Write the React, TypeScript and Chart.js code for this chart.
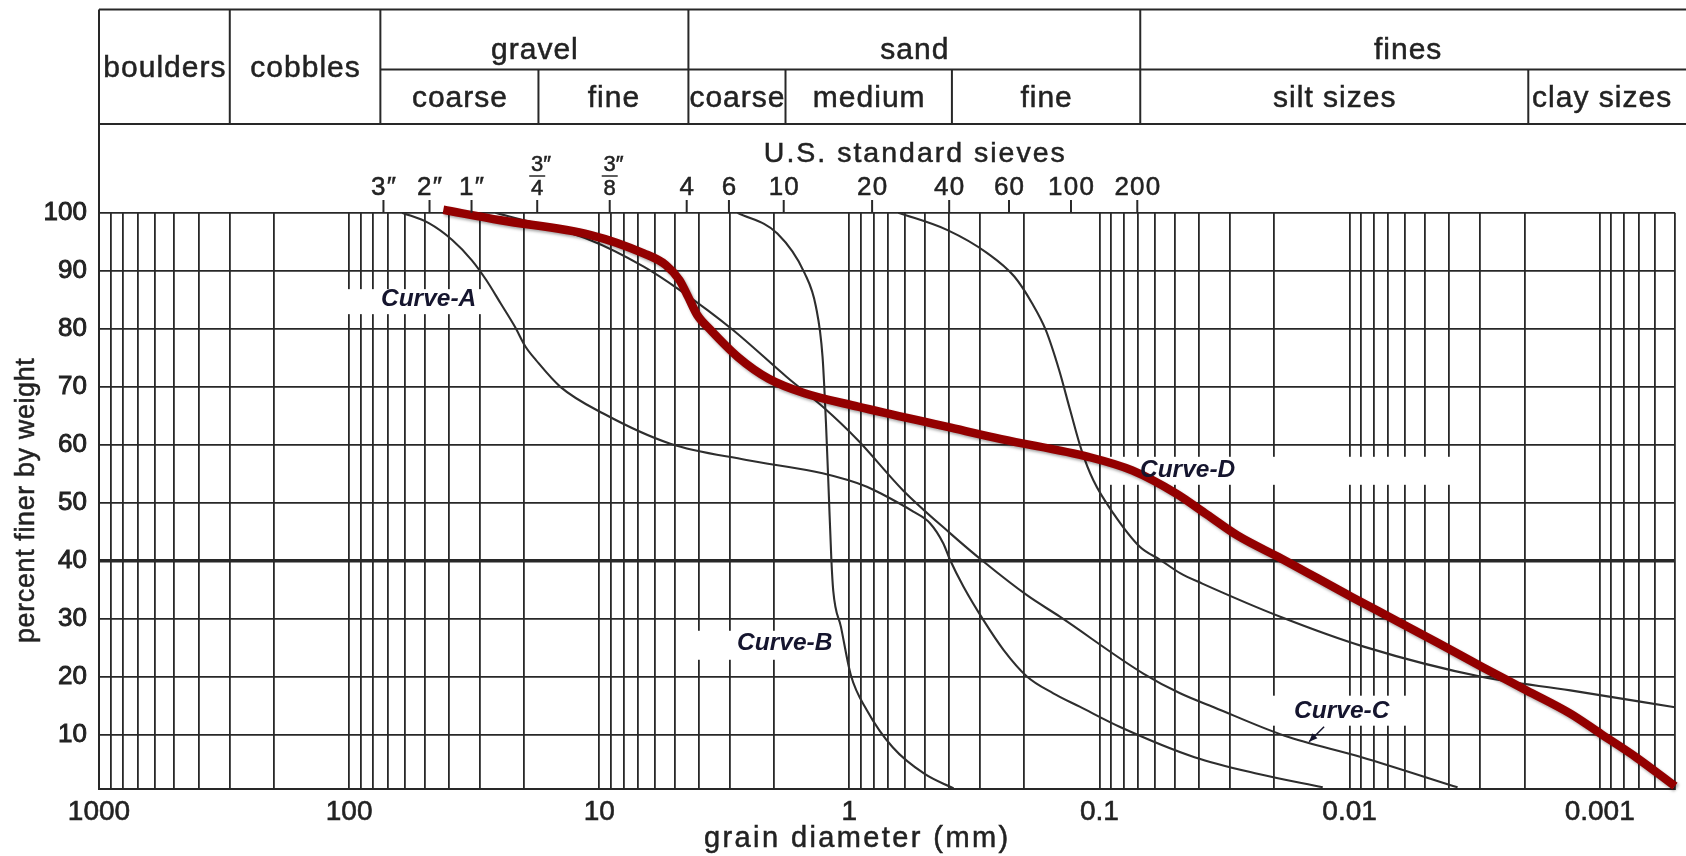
import React, { useEffect, useRef } from 'react';
import { Chart, registerables } from 'chart.js';

Chart.register(...registerables);

// ---------------- data (grain diameter in mm, percent finer by weight) ----------------
const redSize = [42, 24.8, 10.9, 6.64, 5.42, 4.78, 4.41, 4.06, 3.59, 2.8, 2.1, 1.51, 0.924, 0.405, 0.247, 0.11, 0.074, 0.0493, 0.0372, 0.0281, 0.0187, 0.00982, 0.00656, 0.00439, 0.00294, 0.00196, 0.00131, 0.000988, 0.000716, 0.0005];
const redPct = [100.5, 98.7, 96.2, 93.0, 91.0, 88.4, 85.5, 82.4, 79.8, 75.2, 71.4, 68.9, 66.6, 63.1, 61.0, 57.9, 55.6, 51.6, 48.0, 44.4, 40.4, 33.8, 29.8, 25.8, 21.7, 17.7, 13.7, 10.2, 6.2, 1.2];

const curveASize = [61.4, 48.0, 38.7, 32.3, 28.3, 24.8, 21.7, 19.7, 17.9, 14.3, 9.63, 5.2, 2.58, 1.28, 0.851, 0.754, 0.555, 0.476, 0.421, 0.396, 0.35, 0.291, 0.242, 0.195, 0.153, 0.12, 0.0827, 0.0417, 0.0231, 0.0128];
const curveAPct = [100, 98.2, 95.3, 91.8, 88.4, 84.4, 80.3, 76.9, 74.6, 70.0, 65.4, 60.2, 57.4, 55.1, 52.8, 51.7, 48.5, 46.5, 43.0, 40.2, 35.6, 29.8, 24.7, 20.1, 17.2, 14.9, 11.4, 6.2, 3.3, 1.0];

const curveBSize = [2.8, 1.94, 1.51, 1.36, 1.28, 1.24, 1.21, 1.18, 1.16, 1.08, 0.986, 0.851, 0.671, 0.5, 0.383];
const curveBPct = [100, 96.4, 89.6, 83.8, 75.2, 63.7, 52.2, 40.2, 34.9, 28.6, 20.3, 14.3, 7.9, 3.3, 0.8];

const curveCSize = [26.0, 10.9, 6.64, 4.78, 2.92, 1.78, 1.28, 0.924, 0.611, 0.396, 0.291, 0.195, 0.144, 0.0668, 0.0476, 0.0349, 0.0182, 0.00895, 0.0037];
const curveCPct = [100, 95.3, 90.7, 86.7, 79.8, 71.7, 66.6, 60.8, 52.2, 44.8, 39.9, 34.1, 30.4, 20.6, 17.2, 14.8, 9.9, 6.2, 1.0];

const curveDSize = [0.637, 0.405, 0.28, 0.219, 0.186, 0.164, 0.145, 0.131, 0.118, 0.1058, 0.088, 0.0688, 0.0572, 0.0476, 0.0388, 0.0187, 0.00871, 0.00294, 0.00131, 0.0005];
const curveDPct = [100, 97.0, 93.0, 89.0, 84.4, 79.8, 72.9, 66.0, 59.1, 53.9, 48.2, 42.4, 40.2, 37.9, 36.1, 30.3, 25.2, 20.0, 17.7, 14.8];

// axis ticks
const xDecades = [1000, 100, 10, 1, 0.1, 0.01, 0.001];
const xDecadeLabels = ['1000', '100', '10', '1', '0.1', '0.01', '0.001'];
const yTickValues = [10, 20, 30, 40, 50, 60, 70, 80, 90, 100];

// soil classification header
const groupLabels = ['boulders', 'cobbles', 'gravel', 'sand', 'fines'];
const groupFrom = [1000, 300, 75, 4.4, 0.0687];
const groupTo = [300, 75, 4.4, 0.0687, 0.0005];
const subLabels = ['coarse', 'fine', 'coarse', 'medium', 'fine', 'silt sizes', 'clay sizes'];
const subFrom = [75, 17.5, 4.4, 1.8, 0.389, 0.0687, 0.00193];
const subTo = [17.5, 4.4, 1.8, 0.389, 0.0687, 0.00193, 0.0005];

// U.S. standard sieves
const sieveLabels = ['3″', '2″', '1″', '3/4″', '3/8″', '4', '6', '10', '20', '40', '60', '100', '200'];
const sieveSizes = [72.9, 47.7, 32.4, 17.7, 9.08, 4.47, 3.03, 1.83, 0.811, 0.399, 0.23, 0.13, 0.0706];

// curve annotations (anchor = text left / baseline)
const curveLabels = ['Curve-A', 'Curve-B', 'Curve-C', 'Curve-D'];
const curveLabelSize = [74.6, 2.81, 0.01667, 0.0689];
const curveLabelPct = [83.9, 24.7, 13.0, 54.5];

// ---------------- styles ----------------
const FONT = '"Liberation Sans", Arial, sans-serif';
const INK = '#282828';
const TXT = '#222222';
const labelBoxes = [
  [-45, 103, -17, 8],
  [-59, 101, -19, 10],
  [-58, 118, -22, 8],
  [-30, 315, -20, 8],
];

const pts = (s: number[], p: number[]) => s.map((v, i) => ({ x: v, y: p[i] }));

function line(ctx: CanvasRenderingContext2D, x1: number, y1: number, x2: number, y2: number) {
  ctx.beginPath();
  ctx.moveTo(x1, y1);
  ctx.lineTo(x2, y2);
  ctx.stroke();
}

function text(ctx: any, t: string, x: number, y: number, size: number, spacing: number, align: CanvasTextAlign = 'center', style = '') {
  ctx.save();
  ctx.font = `${style}${size}px ${FONT}`;
  ctx.letterSpacing = `${spacing}px`;
  ctx.textAlign = align;
  const dx = align === 'center' ? spacing / 2 : 0;
  ctx.lineWidth = 0.5;
  ctx.strokeStyle = ctx.fillStyle;
  ctx.strokeText(t, x + dx, y);
  ctx.fillText(t, x + dx, y);
  ctx.restore();
}

const soilPlugin = {
  id: 'soilPlugin',
  beforeDatasetsDraw(chart: any) {
    const ctx = chart.ctx;
    const xs = chart.scales.x;
    const ys = chart.scales.y;
    ctx.save();
    ctx.fillStyle = '#ffffff';
    curveLabels.forEach((_, i) => {
      const x0 = xs.getPixelForValue(curveLabelSize[i]);
      const y0 = ys.getPixelForValue(curveLabelPct[i]);
      const b = labelBoxes[i];
      ctx.fillRect(x0 + b[0], y0 + b[2], b[1] - b[0], b[3] - b[2]);
    });
    ctx.restore();
  },
  beforeDatasetDraw(chart: any, args: any) {
    if (args.index === 0) {
      const ctx = chart.ctx;
      ctx.save();
      ctx.shadowColor = 'rgba(0,0,0,0.35)';
      ctx.shadowBlur = 3;
      ctx.shadowOffsetX = 1.5;
      ctx.shadowOffsetY = 2;
    }
  },
  afterDatasetDraw(chart: any, args: any) {
    if (args.index === 0) chart.ctx.restore();
  },
  afterDatasetsDraw(chart: any) {
    const ctx = chart.ctx;
    const xs = chart.scales.x;
    const ys = chart.scales.y;
    ctx.save();
    ctx.fillStyle = '#15152e';
    ctx.textBaseline = 'alphabetic';
    curveLabels.forEach((t, i) => {
      const x0 = xs.getPixelForValue(curveLabelSize[i]);
      const y0 = ys.getPixelForValue(curveLabelPct[i]);
      ctx.font = `italic bold 24.5px ${FONT}`;
      ctx.textAlign = 'left';
      ctx.fillText(t, x0, y0);
      if (t === 'Curve-C') {
        ctx.strokeStyle = '#15152e';
        ctx.lineWidth = 1.5;
        const ax1 = x0 + 30, ay1 = y0 + 9, ax2 = x0 + 15, ay2 = y0 + 24;
        line(ctx, ax1, ay1, ax2, ay2);
        const ang = Math.atan2(ay2 - ay1, ax2 - ax1);
        ctx.beginPath();
        ctx.moveTo(ax2, ay2);
        ctx.lineTo(ax2 - 9 * Math.cos(ang - 0.4), ay2 - 9 * Math.sin(ang - 0.4));
        ctx.lineTo(ax2 - 9 * Math.cos(ang + 0.4), ay2 - 9 * Math.sin(ang + 0.4));
        ctx.closePath();
        ctx.fill();
      }
    });
    ctx.restore();
  },
  afterDraw(chart: any) {
    const ctx = chart.ctx;
    const xs = chart.scales.x;
    const area = chart.chartArea;
    const px = (v: number) => xs.getPixelForValue(v);
    const W = chart.width;
    const yTop = 9.5, yMid = 69.5, yBot = 124;
    ctx.save();
    ctx.strokeStyle = INK;
    ctx.lineWidth = 2;
    // header frame
    line(ctx, area.left, yTop, W, yTop);
    line(ctx, px(75), yMid, W, yMid);
    line(ctx, area.left, yBot, W, yBot);
    line(ctx, area.left, yTop, area.left, area.top);
    groupFrom.forEach((v, i) => {
      if (i > 0) line(ctx, px(v), yTop, px(v), yBot);
    });
    subFrom.forEach((v) => {
      if (groupFrom.indexOf(v) < 0) line(ctx, px(v), yMid, px(v), yBot);
    });
    ctx.fillStyle = TXT;
    ctx.textBaseline = 'alphabetic';
    groupLabels.forEach((t, i) => {
      const x0 = i === 0 ? area.left : px(groupFrom[i]);
      const x1 = i === groupLabels.length - 1 ? area.right : px(groupTo[i]);
      text(ctx, t, (x0 + x1) / 2, i < 2 ? 76.5 : 58.5, 30, 1);
    });
    subLabels.forEach((t, i) => {
      const x0 = px(subFrom[i]);
      const x1 = i === subLabels.length - 1 ? area.right : px(subTo[i]);
      text(ctx, t, (x0 + x1) / 2, 107, 30, 1);
    });
    // sieves
    text(ctx, 'U.S. standard sieves', (px(groupFrom[3]) + px(groupTo[3])) / 2, 161.5, 28.5, 2);
    ctx.strokeStyle = INK;
    sieveLabels.forEach((lab, i) => {
      const x = px(sieveSizes[i]);
      ctx.lineWidth = 2;
      line(ctx, x, 200, x, area.top);
      if (lab.indexOf('/') >= 0) {
        const parts = lab.replace('″', '').split('/');
        ctx.font = `22px ${FONT}`;
        const w = ctx.measureText(parts[0]).width;
        text(ctx, parts[0], x, 171, 22, 0);
        text(ctx, '″', x + w / 2, 171, 22, 0, 'left');
        ctx.lineWidth = 1.5;
        line(ctx, x - 8, 176, x + 8, 176);
        text(ctx, parts[1], x, 195, 22, 0);
      } else {
        text(ctx, lab, x, 194.5, 26, 1.2);
      }
    });
    // axis titles
    text(ctx, 'grain diameter (mm)', px(0.94), 847, 29, 2.4);
    ctx.save();
    ctx.translate(27, (area.top + area.bottom) / 2);
    ctx.rotate(-Math.PI / 2);
    ctx.textBaseline = 'middle';
    text(ctx, 'percent finer by weight', 0, 0, 27, 0.6);
    ctx.restore();
    ctx.restore();
  },
};

export default function App() {
  const ref = useRef<HTMLCanvasElement | null>(null);
  useEffect(() => {
    document.body.style.margin = '0';
    if (!ref.current) return;
    const thin = (label: string, s: number[], p: number[]) => ({
      label,
      data: pts(s, p),
      borderColor: '#2e2e2e',
      borderWidth: 2.1,
      pointRadius: 0,
      cubicInterpolationMode: 'monotone' as const,
    });
    const chart = new Chart(ref.current, {
      type: 'line',
      data: {
        datasets: [
          {
            label: 'Sample',
            data: pts(redSize, redPct),
            borderColor: '#930000',
            borderWidth: 8.5,
            pointRadius: 0,
            cubicInterpolationMode: 'monotone',
            clip: 14,
          } as any,
          thin('Curve-A', curveASize, curveAPct),
          thin('Curve-B', curveBSize, curveBPct),
          thin('Curve-C', curveCSize, curveCPct),
          thin('Curve-D', curveDSize, curveDPct),
        ],
      },
      options: {
        animation: false,
        responsive: true,
        maintainAspectRatio: false,
        devicePixelRatio: 1,
        layout: { padding: { top: 212.7, right: 11, bottom: 0, left: 0 } },
        plugins: { legend: { display: false }, tooltip: { enabled: false } },
        scales: {
          x: {
            type: 'logarithmic',
            reverse: true,
            min: 0.0005,
            max: 1000,
            afterBuildTicks: (scale: any) => {
              const vals: number[] = [];
              for (let e = -4; e <= 3; e++) {
                for (let m = 1; m <= 9; m++) {
                  const v = Number((m * Math.pow(10, e)).toPrecision(6));
                  if (v >= 0.0005 && v <= 1000) vals.push(v);
                }
              }
              scale.ticks = vals.map((v) => ({ value: v }));
            },
            afterFit: (scale: any) => {
              scale.height = 67.5;
              scale.paddingLeft = 0;
              scale.paddingRight = 0;
            },
            ticks: {
              autoSkip: false,
              maxRotation: 0,
              padding: 7,
              color: TXT,
              textStrokeColor: TXT,
              textStrokeWidth: 0.6,
              font: { family: FONT, size: 28 },
              callback: (value: any) => {
                const v = Number(value);
                const k = xDecades.findIndex((d) => Math.abs(v / d - 1) < 1e-6);
                return k >= 0 ? xDecadeLabels[k] : '';
              },
            },
            grid: { color: INK, lineWidth: 1.8, drawTicks: false },
            border: { display: true, color: INK, width: 2 },
          },
          y: {
            type: 'linear',
            min: 0.8,
            max: 100,
            afterBuildTicks: (scale: any) => {
              scale.ticks = yTickValues.map((v) => ({ value: v }));
            },
            afterFit: (scale: any) => {
              scale.width = 99;
              scale.paddingTop = 0;
              scale.paddingBottom = 0;
            },
            ticks: {
              padding: 12,
              color: TXT,
              textStrokeColor: TXT,
              textStrokeWidth: 0.9,
              font: { family: FONT, size: 26 },
              callback: (value: any) => String(value),
            },
            grid: {
              color: INK,
              lineWidth: (c: any) => (c.tick && c.tick.value === 40 ? 3.6 : 1.8),
              drawTicks: false,
            },
            border: { display: true, color: INK, width: 2 },
          },
        },
      },
      plugins: [soilPlugin],
    });
    return () => chart.destroy();
  }, []);
  return (
    <div style={{ position: 'relative', width: 1686, height: 856 }}>
      <canvas ref={ref} />
    </div>
  );
}
